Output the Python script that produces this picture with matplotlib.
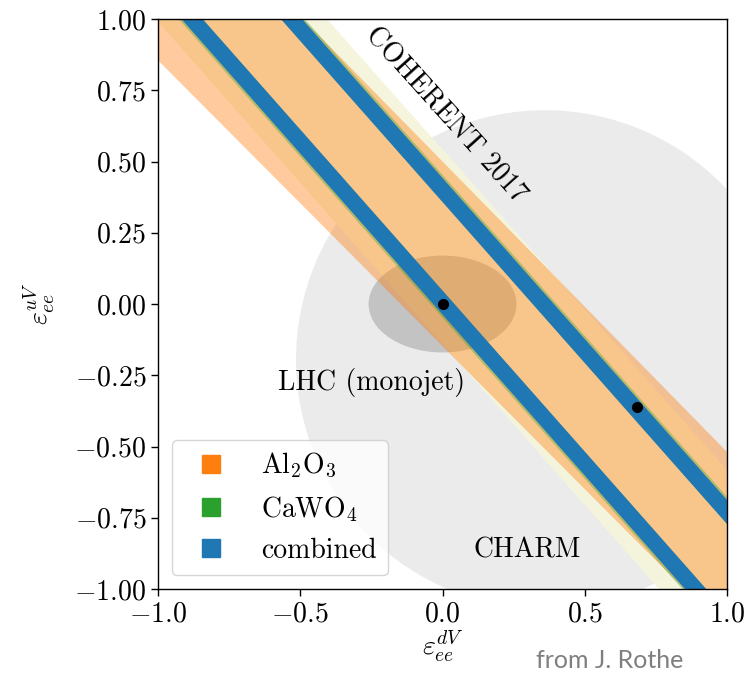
import numpy as np
import matplotlib
matplotlib.use("Agg")
import matplotlib.pyplot as plt
from matplotlib.patches import Circle, Ellipse
from matplotlib.lines import Line2D
from matplotlib.ticker import FuncFormatter

plt.rcParams["font.family"] = "serif"
plt.rcParams["font.serif"] = ["cmr10"]
plt.rcParams["mathtext.fontset"] = "cm"
plt.rcParams["axes.formatter.use_mathtext"] = True
plt.rcParams["font.size"] = 20

# === band edges: eps_u = a + b * eps_d  (lower edge, upper edge) ===
coherent_edges = [(-0.14, -1.13), (0.543, -1.125)]
al2o3_edges = [(-0.148, -1.003), (0.500, -1.019)]
cawo4_strips = [[(-0.048, -1.13), (0.047, -1.13)],
                [(0.358, -1.13), (0.453, -1.13)]]
combined_strips = [[(-0.037, -1.13), (0.047, -1.13)],
                   [(0.358, -1.13), (0.442, -1.13)]]

# best fit points
best_d = [0.0, 0.684]
best_u = [0.0, -0.361]

# other limits
charm = (0.36, -0.195, 0.875)       # centre d, centre u, radius
lhc = (0.0, 0.0, 0.52, 0.34)        # centre d, centre u, width, height

col_orange = "#ff7f0e"
col_green = "#2ca02c"
col_blue = "#1f77b4"

fig = plt.figure(figsize=(7.49, 6.75), dpi=100)
ax = fig.add_axes([0.211, 0.1274, 0.7597, 0.8444])

xx = np.array([-1.5, 1.5])

def band(edges, **kw):
    lo, hi = edges
    ax.fill_between(xx, lo[0] + lo[1] * xx, hi[0] + hi[1] * xx, linewidth=0, **kw)

# CHARM
ax.add_patch(Circle((charm[0], charm[1]), charm[2], facecolor="#ebebeb",
                    edgecolor="none", zorder=0.5))
# COHERENT 2017
band(coherent_edges, color="#f5f5dc", alpha=0.92, zorder=0.7)
# LHC monojet
ax.add_patch(Ellipse((lhc[0], lhc[1]), lhc[2], lhc[3], facecolor="black",
                     alpha=0.17, edgecolor="none", zorder=0.8))

band(al2o3_edges, color=col_orange, alpha=0.4, zorder=1.1)
for s in cawo4_strips:
    band(s, color=col_green, alpha=0.35, zorder=1.2)
for s in combined_strips:
    band(s, color=col_blue, alpha=1.0, zorder=1.3)

ax.plot(best_d, best_u, "o", color="black", markersize=7, zorder=3)

ax.text(0.01, 0.663, "COHERENT 2017", rotation=-48, ha="center", va="center",
        rotation_mode="anchor", zorder=4)
ax.text(-0.248, -0.274, "LHC (monojet)", ha="center", va="center", zorder=4)
ax.text(0.297, -0.863, "CHARM", ha="center", va="center", zorder=4)

ax.set_xlim(-1, 1)
ax.set_ylim(-1, 1)
ax.set_xticks([-1.0, -0.5, 0.0, 0.5, 1.0])
ax.set_yticks(np.arange(-1, 1.01, 0.25))
ax.yaxis.set_major_formatter(FuncFormatter(lambda v, p: f"${v:.2f}$"))
ax.xaxis.set_major_formatter(FuncFormatter(lambda v, p: f"${v:.1f}$"))
ax.tick_params(length=5, width=1)
for sp in ax.spines.values():
    sp.set_linewidth(1.0)
ax.set_xlabel(r"$\varepsilon_{ee}^{dV}$", labelpad=1)
ax.set_ylabel(r"$\varepsilon_{ee}^{uV}$", labelpad=12)

handles = [Line2D([], [], marker="s", linestyle="none", markersize=13, color=c)
           for c in (col_orange, col_green, col_blue)]
ax.legend(handles, [r"Al$_2$O$_3$", r"CaWO$_4$", "combined"], loc="lower left")

fig.text(0.814, 0.022, "from J. Rothe", ha="center", va="center",
         family="Lato", fontsize=18, color="#7f7f7f")

fig.savefig("out.png", dpi=100)
